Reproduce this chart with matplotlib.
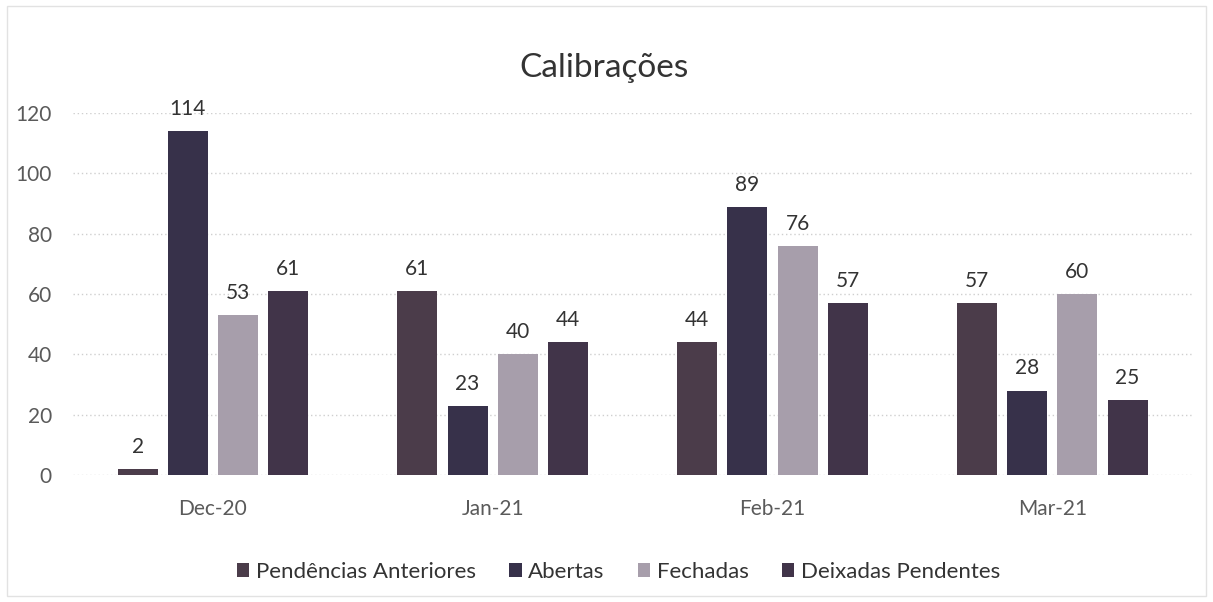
import numpy as np
import matplotlib.pyplot as plt

# monthly calibration counts
months = ['Dec-20', 'Jan-21', 'Feb-21', 'Mar-21']
pendencias = [2, 61, 44, 57]
abertas = [114, 23, 89, 28]
fechadas = [53, 40, 76, 60]
deixadas = [61, 44, 57, 25]

series = [
    ('Pendências Anteriores', pendencias, '#4b3c4a'),
    ('Abertas', abertas, '#37314a'),
    ('Fechadas', fechadas, '#a79eab'),
    ('Deixadas Pendentes', deixadas, '#413449'),
]

plt.rcParams['font.family'] = ['Lato', 'DejaVu Sans']

fig = plt.figure(figsize=(12.13, 6.02), dpi=100)
ax = fig.add_axes([0.060, 0.211, 0.923, 0.601])

x = np.arange(len(months))
width = 0.143
step = 0.179
for i, (name, vals, col) in enumerate(series):
    pos = x + (i - 1.5) * step
    bars = ax.bar(pos, vals, width, color=col, label=name, zorder=3)
    for b, v in zip(bars, vals):
        ax.text(b.get_x() + b.get_width() / 2, v + 4, str(v),
                ha='center', va='bottom', fontsize=15, color='#333333')

ax.set_xlim(-0.5, len(months) - 0.5)
ax.set_ylim(0, 120)
ax.set_yticks(range(0, 121, 20))
ax.set_xticks(x)
ax.set_xticklabels(months)
ax.tick_params(axis='both', length=0, labelsize=15, colors='#5a5a5a')
ax.tick_params(axis='y', pad=15)
ax.tick_params(axis='x', pad=17)
ax.yaxis.grid(True, color='#cfcfcf', linestyle=(0, (1, 2)), linewidth=1, zorder=0)
for s in ax.spines.values():
    s.set_visible(False)

fig.text(0.498, 0.887, 'Calibrações', ha='center', va='center', fontsize=24, color='#333333')

fig.legend(loc='center', bbox_to_anchor=(0.51, 0.05), ncol=4, frameon=False,
           fontsize=16, handlelength=0.55, handleheight=0.55, handletextpad=0.3,
           columnspacing=1.5, labelcolor='#333333')

# faint outer frame
fig.patches.append(plt.Rectangle((0.006, 0.01), 0.988, 0.98, transform=fig.transFigure,
                                 fill=False, edgecolor='#e2e2e2', linewidth=1))

fig.savefig('out.png', dpi=100)
